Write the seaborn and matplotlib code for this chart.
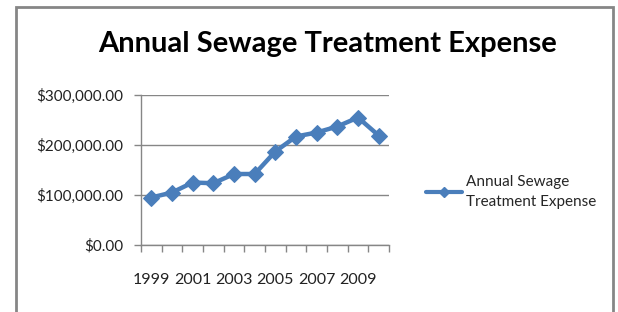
import matplotlib
matplotlib.use("Agg")
import matplotlib.pyplot as plt
import seaborn as sns
import numpy as np
import pandas as pd
from matplotlib.lines import Line2D
from matplotlib.patches import Rectangle

# chart data
years = [1999, 2000, 2001, 2002, 2003, 2004, 2005, 2006, 2007, 2008, 2009, 2010]
expense = [95000, 105000, 125000, 123500, 142000, 142000, 187000, 217000, 225000, 237000, 255000, 219000]
y_ticks = [0, 100000, 200000, 300000]
series_name = "Annual Sewage Treatment Expense"

df = pd.DataFrame({"idx": np.arange(len(years)), "expense": expense})

sns.set_style("white")
plt.rcParams["font.family"] = ["Lato", "DejaVu Sans"]

blue = "#4a7ebb"
grey = "#868686"

fig = plt.figure(figsize=(6.18, 3.12), dpi=100)
ax = fig.add_axes([141 / 618, 1 - 245 / 312, 248 / 618, 150 / 312])

sns.lineplot(data=df, x="idx", y="expense", ax=ax, color=blue, linewidth=3.2,
             marker="D", markersize=8.5, markeredgecolor=blue, legend=False)

# y axis
ax.set_ylim(0, 300000)
ax.set_yticks(y_ticks)
ax.set_yticklabels([f"${v:,.2f}" for v in y_ticks], fontsize=11, color="#222222")
ax.yaxis.grid(True, color=grey, linewidth=1)
ax.tick_params(axis="y", length=5, width=1, color=grey, pad=8, left=True)

# x axis: tick marks between categories, labels on every other category
ax.set_xlim(-0.5, len(years) - 0.5)
ax.set_xticks(np.arange(-0.5, len(years), 1))
ax.set_xticklabels([])
ax.tick_params(axis="x", which="major", length=5, width=1, color=grey, bottom=True)
ax.set_xticks(df["idx"][::2], [str(y) for y in years[::2]], minor=True)
ax.tick_params(axis="x", which="minor", length=0, pad=20, labelsize=11.5, labelcolor="#222222")
ax.set_xlabel("")
ax.set_ylabel("")

for side in ["top", "right"]:
    ax.spines[side].set_visible(False)
for side in ["left", "bottom"]:
    ax.spines[side].set_color(grey)
    ax.spines[side].set_linewidth(1)

fig.text(328 / 618, 1 - 44 / 312, series_name,
         ha="center", va="center", fontsize=21, fontweight="bold", color="black")

handle = Line2D([], [], color=blue, linewidth=3, marker="D", markersize=5)
fig.legend([handle], ["Annual Sewage\nTreatment Expense"], loc="center left",
           bbox_to_anchor=(412 / 618, 1 - 192 / 312), frameon=False,
           handlelength=2.4, handletextpad=0.25, prop={"size": 11})
for t in fig.legends[0].get_texts():
    t.set_linespacing(1.5)

# outer chart border
fig.patches.append(Rectangle((16 / 618, -0.05), 597 / 618, 1.05 - 7 / 312,
                             transform=fig.transFigure, fill=False,
                             edgecolor=grey, linewidth=2))

fig.savefig("out.png", dpi=100)
